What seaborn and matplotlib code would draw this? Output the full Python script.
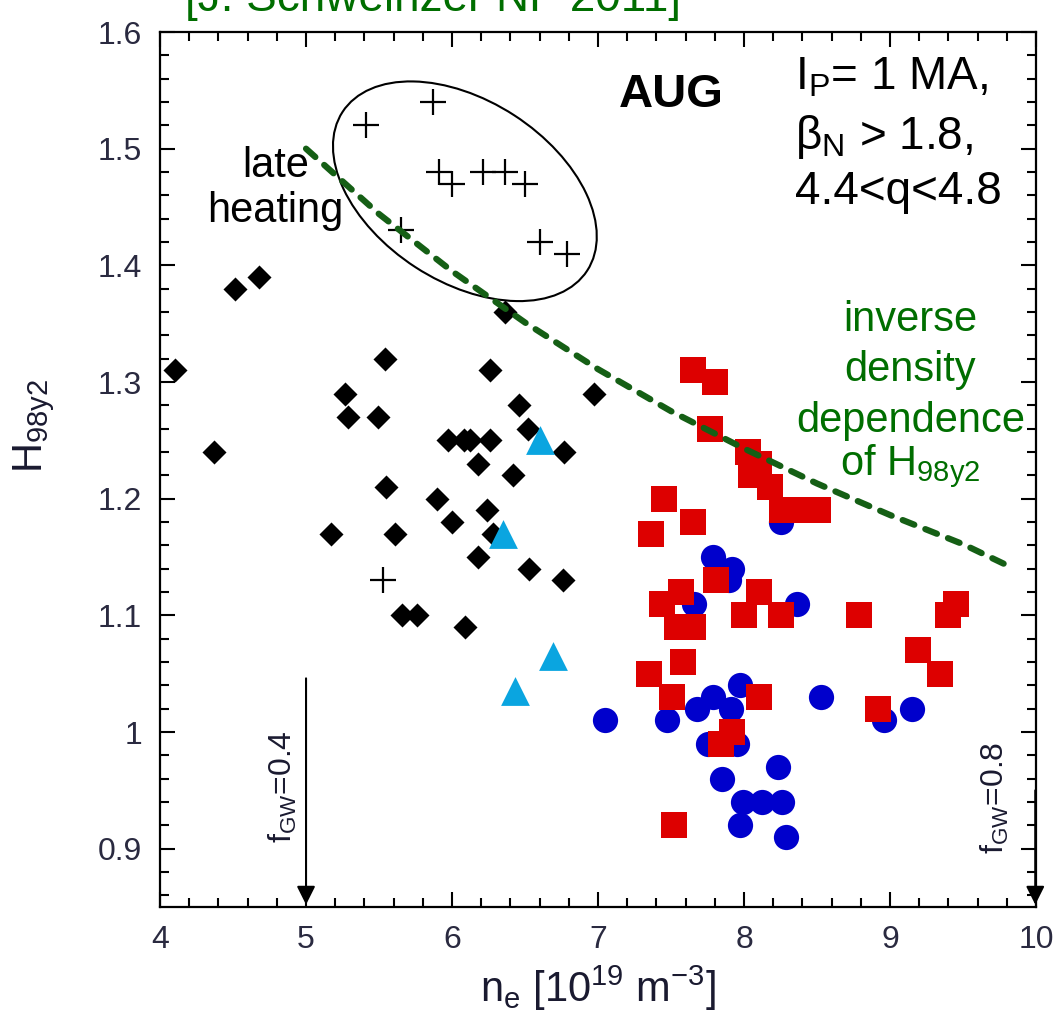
import matplotlib
matplotlib.use("Agg")
import matplotlib.pyplot as plt
from matplotlib.patches import Ellipse
from matplotlib.ticker import MultipleLocator
import seaborn as sns
import pandas as pd

# black diamonds
diamond_n = [4.10, 4.37, 4.51, 4.68, 5.54, 6.26, 5.27, 5.29, 5.49, 6.97, 6.46, 6.52,
             5.97, 6.08, 6.12, 6.26, 6.77, 6.18, 6.42, 5.55, 5.90, 6.24, 6.00, 6.28,
             5.17, 5.61, 6.18, 6.53, 6.76, 5.66, 5.76, 6.09, 6.36]
diamond_h = [1.31, 1.24, 1.38, 1.39, 1.32, 1.31, 1.29, 1.27, 1.27, 1.29, 1.28, 1.26,
             1.25, 1.25, 1.25, 1.25, 1.24, 1.23, 1.22, 1.21, 1.20, 1.19, 1.18, 1.17,
             1.17, 1.17, 1.15, 1.14, 1.13, 1.10, 1.10, 1.09, 1.36]

# late heating (crosses)
cross_n = [5.41, 5.87, 5.91, 6.00, 6.21, 6.36, 6.50, 5.65, 6.60, 6.79, 5.53]
cross_h = [1.52, 1.54, 1.48, 1.47, 1.48, 1.48, 1.47, 1.43, 1.42, 1.41, 1.13]

# light blue triangles
tri_n = [6.60, 6.35, 6.69, 6.43]
tri_h = [1.25, 1.17, 1.065, 1.035]

# blue circles
circle_n = [7.05, 7.47, 7.68, 7.79, 7.97, 7.91, 8.53, 9.15, 8.96, 7.75, 7.95, 8.23,
            7.85, 7.99, 8.12, 8.26, 7.97, 8.29, 7.66, 8.36, 7.79, 7.92, 7.90, 8.25]
circle_h = [1.01, 1.01, 1.02, 1.03, 1.04, 1.02, 1.03, 1.02, 1.01, 0.99, 0.99, 0.97,
            0.96, 0.94, 0.94, 0.94, 0.92, 0.91, 1.11, 1.11, 1.15, 1.14, 1.13, 1.18]

# red squares
square_n = [7.65, 7.80, 7.77, 8.03, 8.10, 8.05, 8.18, 8.26, 8.38, 8.51, 7.45, 7.36,
            7.65, 7.81, 7.57, 7.44, 8.10, 8.00, 8.25, 8.79, 9.45, 9.40, 7.54, 7.65,
            7.58, 7.35, 7.51, 8.10, 9.19, 9.34, 8.92, 7.92, 7.84, 7.52]
square_h = [1.31, 1.30, 1.26, 1.24, 1.23, 1.22, 1.21, 1.19, 1.19, 1.19, 1.20, 1.17,
            1.18, 1.13, 1.12, 1.11, 1.12, 1.10, 1.10, 1.10, 1.11, 1.10, 1.09, 1.09,
            1.06, 1.05, 1.03, 1.03, 1.07, 1.05, 1.02, 1.00, 0.99, 0.92]

# inverse density dependence
curve_n = [5.0, 5.5, 6.0, 6.5, 7.0, 7.5, 8.0, 8.5, 9.0, 9.5, 9.8]
curve_h = [1.50, 1.444, 1.395, 1.351, 1.311, 1.275, 1.243, 1.213, 1.186, 1.161, 1.143]

green = "#006e00"

sns.set_style("ticks")
plt.rcParams["font.family"] = ["Liberation Sans", "DejaVu Sans"]
plt.rcParams["mathtext.fontset"] = "custom"
plt.rcParams["mathtext.rm"] = "Liberation Sans"
plt.rcParams["mathtext.default"] = "regular"
plt.rcParams["text.color"] = "black"
plt.rcParams["axes.labelcolor"] = "#1a1a30"

fig = plt.figure(figsize=(10.55, 10.36), dpi=100)
ax = fig.add_axes([0.1517, 0.1245, 0.8303, 0.8446])

sns.lineplot(x=curve_n, y=curve_h, ax=ax, color="#155f15", lw=4.5, sort=False,
             estimator=None, linestyle=(0, (2.0, 1.9)), dash_capstyle="round")

sns.scatterplot(x=diamond_n, y=diamond_h, ax=ax, marker="D", s=150, color="black",
                linewidth=0)
sns.scatterplot(x=cross_n, y=cross_h, ax=ax, marker="+", s=330, color="black",
                linewidth=1.6)
sns.scatterplot(x=tri_n, y=tri_h, ax=ax, marker="^", s=430, color="#0aa5e0",
                linewidth=0)
sns.scatterplot(x=circle_n, y=circle_h, ax=ax, marker="o", s=330, color="#0000cc",
                linewidth=0)
sns.scatterplot(x=square_n, y=square_h, ax=ax, marker="s", s=370, color="#dd0000",
                linewidth=0)

ax.set_xlim(4, 10)
ax.set_ylim(0.85, 1.6)
ax.xaxis.set_major_locator(MultipleLocator(1))
ax.xaxis.set_minor_locator(MultipleLocator(0.2))
ax.yaxis.set_minor_locator(MultipleLocator(0.02))
ax.set_yticks([0.9, 1.0, 1.1, 1.2, 1.3, 1.4, 1.5, 1.6])
ax.set_yticklabels(["0.9", "1", "1.1", "1.2", "1.3", "1.4", "1.5", "1.6"])
ax.tick_params(which="both", direction="in", top=True, right=True, width=1.5,
               colors="black", labelcolor="#2a2a40", labelsize=23)
ax.tick_params(which="major", length=11, pad=13)
ax.tick_params(which="minor", length=6.5)
for sp in ax.spines.values():
    sp.set_linewidth(1.6)
    sp.set_color("black")

ax.set_xlabel(r"n$_e$ [10$^{19}$ m$^{-3}$]", fontsize=30, labelpad=6)
ax.set_ylabel(r"H$_{98y2}$", fontsize=30)
ax.yaxis.set_label_coords(-0.118, 0.55)

# ellipse around late-heating points
ax.add_patch(Ellipse((0.348, 0.818), 0.333, 0.207, angle=-33, transform=ax.transAxes,
                     fill=False, ec="black", lw=1.5))

ax.text(4.79, 1.466, "late\nheating", fontsize=30, ha="center", va="center",
        linespacing=1.15)
ax.text(7.50, 1.546, "AUG", fontsize=34, fontweight="bold", ha="center", va="center")
ax.text(8.35, 1.561, r"I$_P$= 1 MA,", fontsize=33, ha="left", va="center")
ax.text(8.35, 1.510, r"$\beta_N$ > 1.8,", fontsize=33, ha="left", va="center")
ax.text(8.35, 1.463, "4.4<q<4.8", fontsize=33, ha="left", va="center")

for yy, line in zip([1.353, 1.310, 1.267, 1.228],
                    ["inverse", "density", "dependence", r"of H$_{98y2}$"]):
    ax.text(9.14, yy, line, fontsize=30, color=green, ha="center", va="center")

ax.annotate("", xy=(5.0, 0.852), xytext=(5.0, 1.046),
            arrowprops=dict(arrowstyle="-|>", color="black", lw=1.5,
                            mutation_scale=28, shrinkA=0, shrinkB=0))
ax.text(4.84, 0.953, r"f$_{GW}$=0.4", fontsize=23, rotation=90, ha="center",
        va="center", color="#1a1a30")
ax.annotate("", xy=(9.995, 0.852), xytext=(9.995, 0.95), annotation_clip=False,
            arrowprops=dict(arrowstyle="-|>", color="black", lw=1.5,
                            mutation_scale=28, shrinkA=0, shrinkB=0))
ax.text(9.72, 0.944, r"f$_{GW}$=0.8", fontsize=23, rotation=90, ha="center",
        va="center", color="#1a1a30")

fig.text(0.175, 0.989, "[J. Schweinzer NF 2011]", fontsize=33, color=green,
         ha="left", va="baseline")

fig.savefig("out.png", dpi=100)
